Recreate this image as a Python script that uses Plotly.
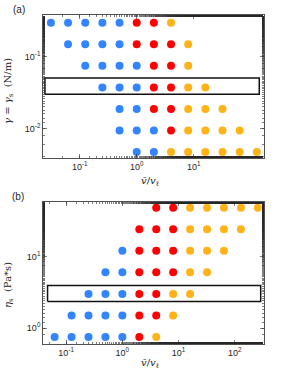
import plotly.graph_objects as go

# ---------------- data ----------------
# panel (a): rows of surface tension gamma (N/m), speeds v/v_l per regime
a_gamma = [0.3, 0.15, 0.075, 0.0375, 0.01875, 0.009375, 0.0046875]
a_blue = [[1/32, 1/16, 1/8, 1/4, 1/2], [1/16, 1/8, 1/4, 1/2], [1/8, 1/4, 1/2, 1],
          [1/4, 1/2, 1], [1/2, 1], [1/2, 1, 2], [1, 2]]
a_red = [[1, 2], [1, 2, 4], [2, 4], [2, 4], [2, 4], [4], []]
a_orange = [[4], [8], [8], [8, 16], [8, 16, 32], [8, 16, 32, 64], [4, 8, 16, 32, 64, 128]]

# panel (b): rows of viscosity eta_s (Pa*s)
b_eta = [48, 24, 12, 6, 3, 1.5, 0.75]
b_blue = [[], [], [1], [0.5, 1], [0.25, 0.5, 1], [0.125, 0.25, 0.5, 1],
          [1/16, 1/8, 1/4, 1/2, 1]]
b_red = [[4, 8], [2, 4, 8], [2, 4, 8], [2, 4, 8], [2, 4], [2, 4], [2]]
b_orange = [[16, 32, 64, 128, 256], [16, 32, 64, 128], [16, 32, 64], [16, 32],
            [8, 16], [8], [4]]

# highlighted boxes (log10 extents)
a_box = [-1.61, 2.15, -1.52, -1.293]
b_box = [-1.33, 2.459, 0.371, 0.594]

x_ticks_a = [0.1, 1, 10]
x_ticks_b = [0.1, 1, 10, 100]
y_ticks_a = [0.01, 0.1]
y_ticks_b = [1, 10]

BLUE = "#3385ff"
RED = "#ff0000"
ORANGE = "#ffb319"
AXC = "#262626"

fig = go.Figure()


def add_panel(rows, blue, red, orange, xa, ya):
    for vals, col in ((blue, BLUE), (red, RED), (orange, ORANGE)):
        xs, ys = [], []
        for r, row in zip(rows, vals):
            xs += row
            ys += [r] * len(row)
        fig.add_trace(go.Scatter(x=xs, y=ys, mode="markers", xaxis=xa, yaxis=ya,
                                 marker=dict(size=8, color=col, line=dict(width=0)),
                                 showlegend=False, hoverinfo="skip"))


def add_box(b, xa, ya):
    x0, x1, y0, y1 = [10 ** v for v in b]
    fig.add_trace(go.Scatter(x=[x0, x1, x1, x0, x0], y=[y0, y0, y1, y1, y0],
                             mode="lines", xaxis=xa, yaxis=ya,
                             line=dict(color="#111111", width=1.5),
                             showlegend=False, hoverinfo="skip"))


add_box(a_box, "x", "y")
add_panel(a_gamma, a_blue, a_red, a_orange, "x", "y")
add_box(b_box, "x2", "y2")
add_panel(b_eta, b_blue, b_red, b_orange, "x2", "y2")


def ttext(vals):
    import math
    return ["10<sup>%d</sup>" % round(math.log10(v)) for v in vals]


tickfont = dict(family="Liberation Sans, Arial", size=9, color=AXC)


def axis(domain, rng, tv, anchor):
    return dict(type="log", domain=domain, range=rng, anchor=anchor, automargin=False,
                tickvals=tv, ticktext=ttext(tv), ticks="inside", ticklen=4,
                tickcolor=AXC, tickwidth=0.6,
                minor=dict(ticks="inside", ticklen=2, tickcolor=AXC, tickwidth=0.6,
                           showgrid=False),
                showline=True, linecolor=AXC, linewidth=0.8, mirror="allticks",
                showgrid=False, zeroline=False, tickfont=tickfont)


W, H = 291, 379
L, R, T, B = 43, 27, 15, 35

fig.update_layout(
    width=W, height=H,
    margin=dict(l=L, r=R, t=T, b=B, autoexpand=False),
    paper_bgcolor="white", plot_bgcolor="white",
    hovermode=False,
    xaxis=axis([0, 1], [-1.644, 2.233], x_ticks_a, "y"),
    yaxis=axis([0.565, 1], [-2.414, -0.414], y_ticks_a, "x"),
    xaxis2=axis([0, 1], [-1.411, 2.518], x_ticks_b, "y2"),
    yaxis2=axis([0, 0.4326], [-0.223, 1.766], y_ticks_b, "x2"),
)

labfont = dict(family="DejaVu Serif", size=10, color=AXC)
xlab = "<i>v̄</i>/<i>v</i><sub>ℓ</sub>"
ann = [
    dict(text="(a)", x=18.5, y=9.5, font=dict(family="Liberation Sans", size=10, color=AXC)),
    dict(text="(b)", x=18, y=196, font=dict(family="Liberation Sans", size=10, color=AXC)),
    dict(text=xlab, x=150, y=181, font=labfont),
    dict(text=xlab, x=150, y=364, font=labfont),
    dict(text="<i>γ</i> = <i>γ</i><sub>s</sub>  (N/m)", x=8, y=91, textangle=-90, font=labfont),
    dict(text="<i>η</i><sub>s</sub>  (Pa*s)", x=8, y=285, textangle=-90, font=labfont),
]
for a in ann:
    px, py = a.pop("x"), a.pop("y")
    fig.add_annotation(xref="paper", yref="paper",
                       x=(px - L) / (W - L - R), y=(H - B - py) / (H - T - B),
                       xanchor="center", yanchor="middle", showarrow=False, **a)

# remove the default 8px page margin so the figure fills the window exactly
fig.write_html("out.html", config={"displayModeBar": False, "staticPlot": True},
               post_script="document.body.style.margin='0px';document.body.style.overflow='hidden';")
